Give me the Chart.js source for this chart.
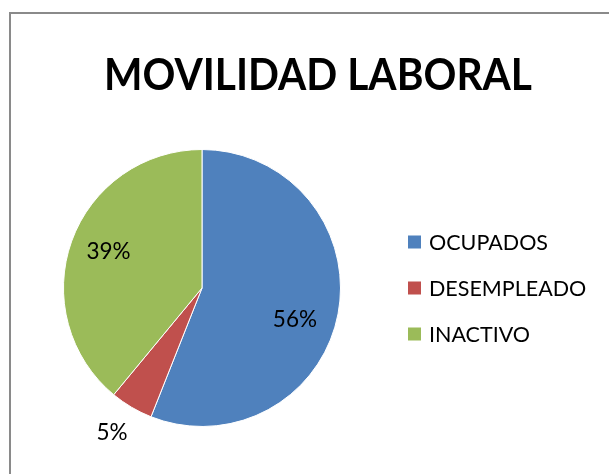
<!DOCTYPE html>
<html><head><meta charset="utf-8">
<script src="https://cdn.jsdelivr.net/npm/chart.js@4.4.0/dist/chart.umd.min.js"></script>
<style>
html,body{margin:0;padding:0;background:#fff;overflow:hidden;width:609px;height:474px;}
#frame{position:absolute;left:9px;top:12px;width:700px;height:600px;border:2px solid #8a8a8a;box-sizing:border-box;}
#c{position:absolute;left:0;top:0;}
</style></head><body>
<div id="frame"></div>
<canvas id="c" width="609" height="474"></canvas>
<script>
const chartTitle = 'MOVILIDAD LABORAL';
const categories = ['OCUPADOS', 'DESEMPLEADO', 'INACTIVO'];
const values = [56, 5, 39];
const valueLabels = ['56%', '5%', '39%'];
const colors = ['#4F81BD', '#C0504D', '#9BBB59'];

// style / placement settings
const FONT = 'Lato, "Open Sans", sans-serif';
const titleStyle = {x: 318, baseline: 90, size: 44, width: 428};
const legendStyle = {boxX: 408, boxSize: 13, textX: 429, firstRow: 242, rowGap: 46, size: 21.5};
const labelRadial = [0.705, 1.226, 0.727];
const labelShiftDeg = [7.1, 1.4, 2.05];
const labelSize = 22.5;

function fitText(ctx, text, x, baseline, targetW, align) {
  const w = ctx.measureText(text).width;
  const sx = targetW ? targetW / w : 1;
  ctx.save();
  ctx.translate(x, baseline);
  ctx.scale(sx, 1);
  ctx.textAlign = align || 'center';
  ctx.textBaseline = 'alphabetic';
  ctx.fillText(text, 0, 0);
  ctx.restore();
}

const decor = {
  id: 'decor',
  afterDraw(chart) {
    const ctx = chart.ctx;
    ctx.save();
    ctx.fillStyle = '#000';
    // title
    ctx.font = 'bold ' + titleStyle.size + 'px ' + FONT;
    fitText(ctx, chartTitle, titleStyle.x, titleStyle.baseline, titleStyle.width, 'center');
    // legend
    ctx.font = legendStyle.size + 'px ' + FONT;
    chart.data.labels.forEach((lab, i) => {
      const cy = legendStyle.firstRow + i * legendStyle.rowGap;
      ctx.fillStyle = chart.data.datasets[0].backgroundColor[i];
      ctx.fillRect(legendStyle.boxX, cy - legendStyle.boxSize / 2, legendStyle.boxSize, legendStyle.boxSize);
      ctx.fillStyle = '#000';
      const m = ctx.measureText(lab);
      ctx.textAlign = 'left';
      ctx.textBaseline = 'alphabetic';
      ctx.fillText(lab, legendStyle.textX, cy + m.actualBoundingBoxAscent / 2);
    });
    // data labels
    ctx.font = labelSize + 'px ' + FONT;
    const meta = chart.getDatasetMeta(0);
    meta.data.forEach((arc, i) => {
      const p = arc.getProps(['x', 'y', 'startAngle', 'endAngle', 'outerRadius'], true);
      const mid = (p.startAngle + p.endAngle) / 2 + labelShiftDeg[i] * Math.PI / 180;
      const r = p.outerRadius * labelRadial[i];
      const lx = p.x + Math.cos(mid) * r;
      const ly = p.y + Math.sin(mid) * r;
      const m = ctx.measureText(valueLabels[i]);
      const h = m.actualBoundingBoxAscent;
      ctx.textAlign = 'center';
      ctx.textBaseline = 'alphabetic';
      ctx.fillStyle = '#000';
      ctx.fillText(valueLabels[i], lx, ly + h / 2);
    });
    ctx.restore();
  }
};

new Chart(document.getElementById('c'), {
  type: 'pie',
  data: {
    labels: categories,
    datasets: [{
      data: values,
      backgroundColor: colors,
      borderColor: '#ffffff',
      borderWidth: 1
    }]
  },
  options: {
    responsive: false,
    animation: false,
    layout: {padding: {top: 149, bottom: 47, left: 63, right: 268}},
    plugins: {legend: {display: false}, title: {display: false}, tooltip: {enabled: false}}
  },
  plugins: [decor]
});
</script>
</body></html>
